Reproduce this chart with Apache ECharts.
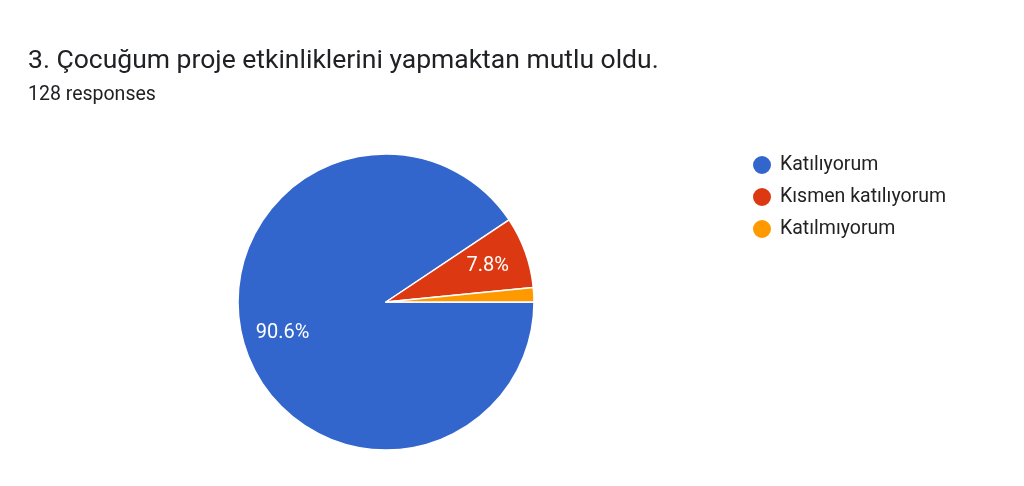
<!DOCTYPE html>
<html><head><meta charset="utf-8">
<script src="https://cdn.jsdelivr.net/npm/echarts@6/dist/echarts.min.js"></script>
<style>html,body{margin:0;padding:0;background:#fff}#c{width:1024px;height:486px}</style>
</head><body><div id="c"></div>
<script>
const categories = ['Katılıyorum', 'Kısmen katılıyorum', 'Katılmıyorum'];
const counts = [116, 10, 2];
const labels = ['90.6%', '7.8%', ''];
const colors = ['#3366cc', '#dc3912', '#ff9900'];

const chart = echarts.init(document.getElementById('c'));
const font = 'Roboto, Arial, sans-serif';
const center = [386, 302];
const R = 148;
chart.setOption({
  animation: false,
  color: colors,
  title: [
    {text: '3. Çocuğum proje etkinliklerini yapmaktan mutlu oldu.', left: 28, top: 48, padding: 0,
     textStyle: {fontFamily: font, fontSize: 26.5, fontWeight: 'normal', color: '#202124'}},
    {text: '128 responses', left: 28, top: 85, padding: 0,
     textStyle: {fontFamily: font, fontSize: 19.5, fontWeight: 'normal', color: '#202124'}}
  ],
  legend: {
    orient: 'vertical', left: 751, top: 154, padding: 0,
    icon: 'circle', itemWidth: 20, itemHeight: 20, itemGap: 10,
    textStyle: {fontFamily: font, fontSize: 19.5, color: '#222', padding: [0,0,0,3]},
    data: categories
  },
  series: [
    {type: 'pie', center: center, radius: [0, R], startAngle: 0, clockwise: true,
     silent: true, label: {show: false}, labelLine: {show: false},
     itemStyle: {borderColor: '#fff', borderWidth: 1.5},
     data: categories.map((n, i) => ({name: n, value: counts[i]}))},
    {type: 'pie', center: center, radius: [62, R], startAngle: 0, clockwise: true,
     silent: true, legendHoverLink: false,
     itemStyle: {color: 'rgba(0,0,0,0)', borderWidth: 0},
     label: {show: true, position: 'inside', color: '#fff', fontFamily: font, fontSize: 20,
             formatter: p => labels[p.dataIndex]},
     labelLine: {show: false},
     data: categories.map((n, i) => ({name: n + ' ', value: counts[i]}))}
  ]
});
</script></body></html>
